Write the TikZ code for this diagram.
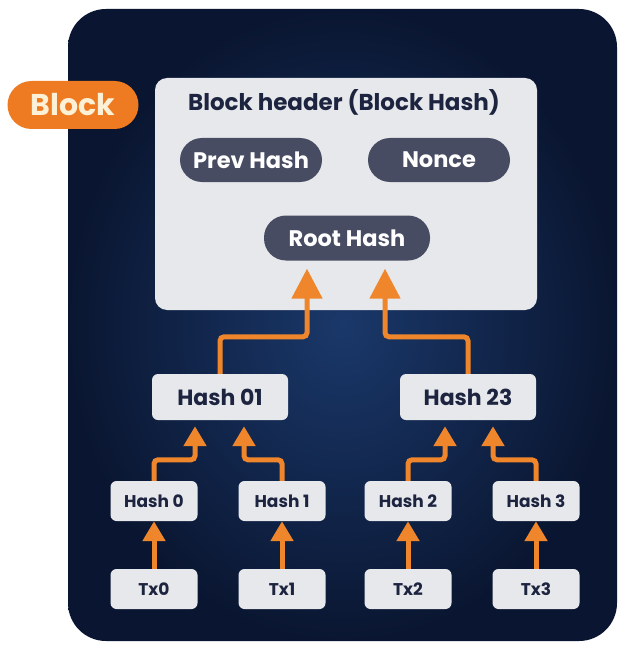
\documentclass[tikz,border=0pt]{standalone}
\usepackage{fontspec}
\setmainfont{Poppins}
\usetikzlibrary{arrows.meta,calc}

\definecolor{navy}{HTML}{0A1631}
\definecolor{navyglow}{HTML}{1A386A}
\definecolor{boxgray}{HTML}{E7E8EB}
\definecolor{pillgray}{HTML}{474C62}
\definecolor{inkblue}{HTML}{1D2440}
\definecolor{linkorange}{HTML}{EF862C}
\definecolor{tagorange}{HTML}{EE7B22}
\definecolor{tagtext}{HTML}{FCF0D6}

\tikzset{
  hashbox/.style={fill=boxgray, rounded corners=6pt, text=inkblue, font=\bfseries\fontsize{22}{26}\selectfont,
    minimum width=136pt, minimum height=46pt, inner sep=0pt},
  leafbox/.style={hashbox, font=\bfseries\fontsize{17}{20}\selectfont, minimum width=87pt, minimum height=40pt},
  field/.style={fill=pillgray, rounded corners=22pt, text=white, font=\bfseries\fontsize{22.5}{26}\selectfont,
    minimum width=142pt, minimum height=44pt, inner sep=0pt},
  link/.style={draw=linkorange, line width=5pt, rounded corners=4pt,
    -{Triangle[width=22pt,length=20pt]}},
  biglink/.style={link, -{Triangle[width=30pt,length=30pt]}, shorten >=8pt},
}

\begin{document}
\begin{tikzpicture}[x=1pt, y=-1pt]
  \useasboundingbox (0,0) rectangle (618,647);
  % dark panel with a soft glow in the middle
  \shade[inner color=navyglow, outer color=navy, rounded corners=38pt]
    (68,9) rectangle (617,641);

  % block header
  \node[fill=boxgray, rounded corners=12pt, minimum width=382pt, minimum height=232pt] (header) at (346,194) {};
  \node[text=inkblue, font=\bfseries\fontsize{23}{27}\selectfont] (title) at (344,102) {Block header (Block Hash)};
  \node[field] (prev) at (251,160) {Prev Hash};
  \node[field] (nonce) at (439,160) {Nonce};
  \node[field, minimum width=166pt, minimum height=45pt] (root) at (347,238) {Root Hash};

  % merkle tree
  \node[hashbox] (h01) at (220,397) {Hash 01};
  \node[hashbox] (h23) at (468,397) {Hash 23};
  \foreach \i/\x in {0/154, 1/282, 2/408, 3/536} {
    \node[leafbox] (h\i) at (\x,501) {Hash \i};
    \node[leafbox] (tx\i) at (\x,589) {Tx\i};
    \draw[link] (tx\i) -- (h\i);
  }

  \draw[link, shorten >=6pt] (h0.north) -- ++(0,-21) -| ([xshift=-25pt]h01.south);
  \draw[link, shorten >=6pt] (h1.north) -- ++(0,-21) -| ([xshift=24pt]h01.south);
  \draw[link, shorten >=6pt] (h2.north) -- ++(0,-21) -| ([xshift=-23pt]h23.south);
  \draw[link, shorten >=6pt] (h3.north) -- ++(0,-21) -| ([xshift=25pt]h23.south);

  \draw[biglink] (h01.north) -- ++(0,-37) -| ([xshift=-40pt]root.south);
  \draw[biglink] (h23.north) -- ++(0,-37) -| ([xshift=38pt]root.south);

  % block tag
  \node[fill=tagorange, rounded corners=24pt, text=tagtext, font=\bfseries\fontsize{30}{34}\selectfont,
    minimum width=131pt, minimum height=48pt, inner sep=0pt] (block) at (73,105) {Block};
\end{tikzpicture}
\end{document}
